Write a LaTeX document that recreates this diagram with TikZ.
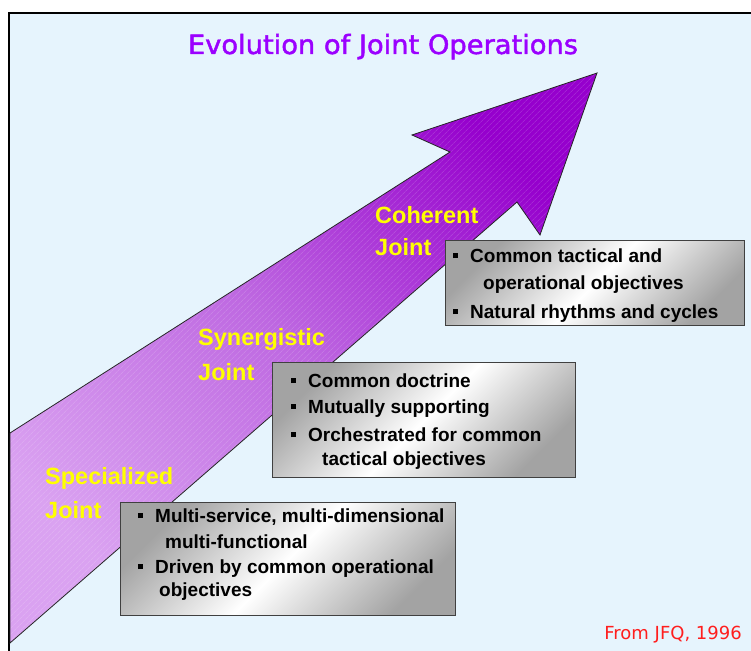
\documentclass[tikz,border=0pt]{standalone}
\usepackage{fontspec}
\setmainfont{Liberation Sans}
\newfontfamily\titlefont[FakeBold=1.6]{DejaVu Sans}
\newfontfamily\srcfont{DejaVu Sans}
\usetikzlibrary{patterns.meta}
\definecolor{bgblue}{RGB}{230,244,253}
\definecolor{titlepurple}{RGB}{155,0,255}
\definecolor{arrowlight}{RGB}{218,162,241}
\definecolor{arrowmid}{RGB}{190,104,225}
\definecolor{arrowdark}{RGB}{150,0,205}
\definecolor{labelyellow}{RGB}{255,255,0}
\definecolor{srcred}{RGB}{255,30,30}
\newcommand{\bul}{\makebox[0pt][r]{\rule[4pt]{5pt}{5pt}\hspace{12pt}}}
\tikzset{
  infobox/.style={draw=black!75, line width=1.2pt, left color=black!36, right color=black!36, middle color=white, shading angle=45, inner sep=0pt, anchor=north west},
  boxtext/.style={anchor=base west, inner sep=0pt, font=\fontsize{19}{22}\selectfont\bfseries, text=black},
  stagelabel/.style={anchor=base west, inner sep=0pt, font=\fontsize{23.5}{27}\selectfont\bfseries, text=labelyellow},
}
\begin{document}
\begin{tikzpicture}[x=1pt,y=-1pt]
\useasboundingbox (0,0) rectangle (751,650);
\fill[white] (0,0) rectangle (751,650);
\draw[fill=bgblue, line width=2pt] (9,13) rectangle (775,675);
% title
\node[anchor=base, inner sep=0pt, text=titlepurple, font=\titlefont\fontsize{26.5}{30}\selectfont] (title) at (383,54) {\scalebox{1.03}[1]{Evolution of Joint Operations}};
% arrow
\def\arrowpath{(10,433) -- (450,152) -- (412,135) -- (597,73) -- (540,235) -- (517,202) -- (10,643) -- cycle}
\shade[left color=arrowdark, right color=arrowlight, middle color=arrowmid, shading angle=-45] \arrowpath;
\path[pattern={Lines[angle=45,distance=4pt,line width=0.6pt]}, pattern color=white, opacity=0.22] \arrowpath;
\draw[line width=0.8pt, black!85, line join=miter] \arrowpath;
% stage labels
\node[stagelabel] (coh1) at (375,223) {Coherent};
\node[stagelabel] (coh2) at (375,255) {Joint};
\node[stagelabel] (syn1) at (198,345) {Synergistic};
\node[stagelabel] (syn2) at (198,380) {Joint};
\node[stagelabel] (spe1) at (45,484) {Specialized};
\node[stagelabel] (spe2) at (45,518) {Joint};
% boxes
\node[infobox, minimum width=299pt, minimum height=85pt] (box3) at (445,240) {};
\node[infobox, minimum width=303pt, minimum height=115pt] (box2) at (272,362) {};
\node[infobox, minimum width=335pt, minimum height=113pt] (box1) at (120,502) {};
% box 3 text
\node[boxtext] (b3l1) at (470,262) {\bul Common tactical and};
\node[boxtext] (b3l2) at (483,289) {operational objectives};
\node[boxtext] (b3l3) at (470,318) {\bul Natural rhythms and cycles};
% box 2 text
\node[boxtext] (b2l1) at (308,387) {\bul Common doctrine};
\node[boxtext] (b2l2) at (308,413) {\bul Mutually supporting};
\node[boxtext] (b2l3) at (308,441) {\bul Orchestrated for common};
\node[boxtext] (b2l4) at (322,465) {tactical objectives};
% box 1 text
\node[boxtext] (b1l1) at (155,522) {\bul Multi-service, multi-dimensional};
\node[boxtext] (b1l2) at (165,548) {multi-functional};
\node[boxtext] (b1l3) at (155,573) {\bul Driven by common operational};
\node[boxtext] (b1l4) at (159,596) {objectives};
% source
\node[anchor=base east, inner sep=0pt, text=srcred, font=\srcfont\fontsize{18}{21}\selectfont] (src) at (742,639) {From JFQ, 1996};
\end{tikzpicture}
\end{document}
